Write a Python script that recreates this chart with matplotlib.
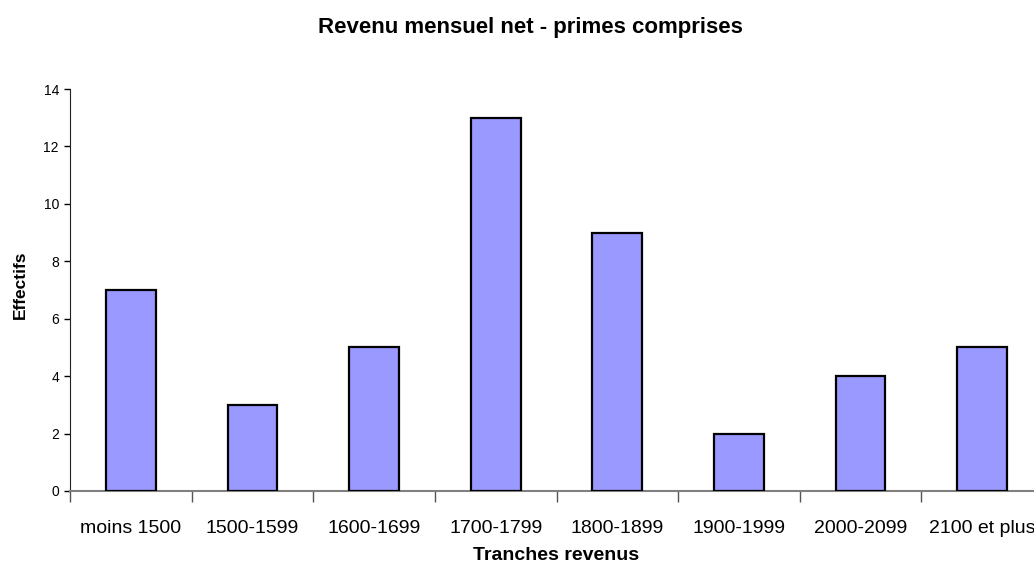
import matplotlib
matplotlib.use("Agg")
import matplotlib.pyplot as plt
import numpy as np

# ---------------------------------------------------------
# DATA
# ---------------------------------------------------------

categories = ["moins 1500", "1500-1599", "1600-1699", "1700-1799",
              "1800-1899", "1900-1999", "2000-2099", "2100 et plus"]
effectifs = [7, 3, 5, 13, 9, 2, 4, 5]
y_ticks = [0, 2, 4, 6, 8, 10, 12, 14]

title = "Revenu mensuel net - primes comprises"
x_label = "Tranches revenus"
y_label = "Effectifs"

# ---------------------------------------------------------
# PLOT
# ---------------------------------------------------------

plt.rcParams["font.family"] = ["Liberation Sans", "DejaVu Sans"]

W, H = 1034, 576
fig = plt.figure(figsize=(W / 100, H / 100), dpi=100)

# axes box in pixels: left 70, bottom y=491, top y=89, 8 slots of ~121.6 px
ax = fig.add_axes([70 / W, (H - 491) / H, 973 / W, (491 - 89) / H])

x = np.arange(len(categories))
ax.bar(x, effectifs, width=0.41, color="#9999FF", edgecolor="black", linewidth=1.6, zorder=3)

ax.set_xlim(-0.5, len(categories) - 0.5)
ax.set_ylim(0, 14)
ax.set_yticks(y_ticks)
ax.set_yticklabels([str(v) for v in y_ticks], fontsize=10)

ax.set_xticks(x)
ax.set_xticklabels(categories, fontsize=14)
ax.tick_params(axis="x", which="major", length=0, pad=21)
ax.set_xticks(np.arange(len(categories) + 1) - 0.5, minor=True)
ax.tick_params(axis="x", which="minor", length=8, width=1, color="#555555", direction="out")
ax.tick_params(axis="y", length=4, width=1, direction="out", pad=4)

for side in ["top", "right"]:
    ax.spines[side].set_visible(False)
ax.spines["left"].set_color("#222222")
ax.spines["bottom"].set_color("#808080")
ax.spines["bottom"].set_linewidth(1.5)

fig.text(530 / W, 1 - 28 / H, title, ha="center", va="center", fontsize=16, fontweight="bold")
fig.text(556 / W, 1 - 556 / H, x_label, ha="center", va="center", fontsize=14, fontweight="bold")
fig.text(20 / W, 1 - 285 / H, y_label, ha="center", va="center", rotation=90, fontsize=12.5, fontweight="bold")

fig.savefig("out.png", dpi=100)
